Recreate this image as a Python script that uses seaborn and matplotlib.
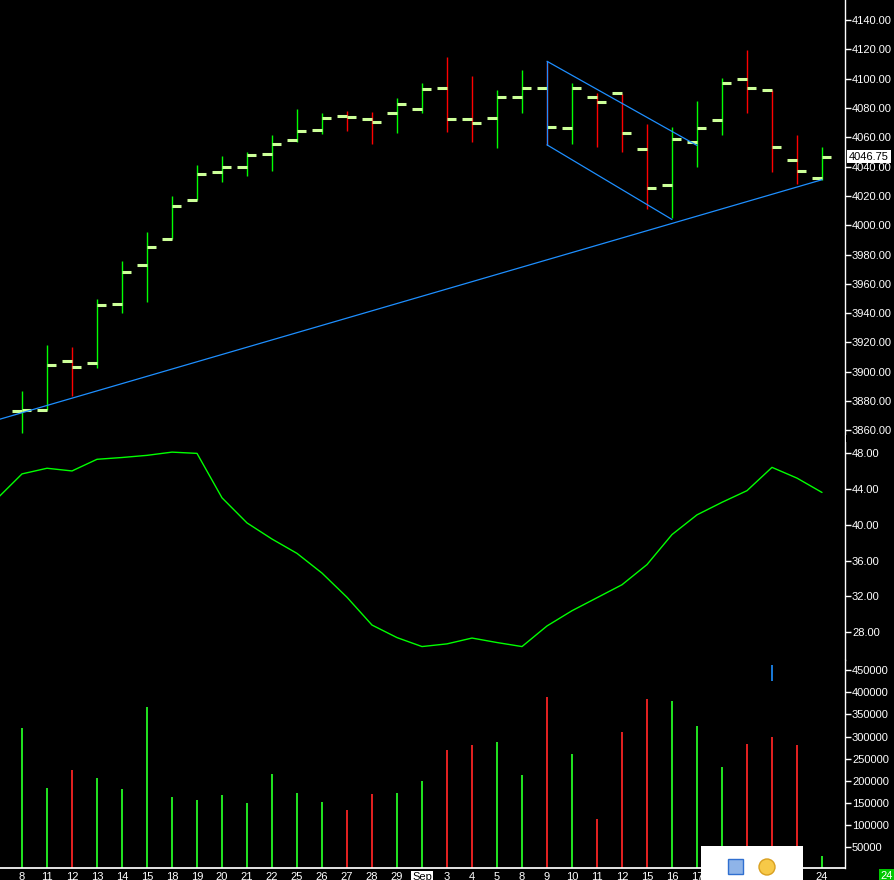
import numpy as np
import pandas as pd
import matplotlib
matplotlib.use("Agg")
import matplotlib.pyplot as plt
import matplotlib.transforms as mtransforms
from matplotlib.patches import Rectangle, Ellipse
import seaborn as sns

# daily bars, Aug 8 .. Sep 24
dates = ["8", "11", "12", "13", "14", "15", "18", "19", "20", "21", "22",
         "25", "26", "27", "28", "29", "Sep", "3", "4", "5", "8", "9", "10",
         "11", "12", "15", "16", "17", "18", "19", "22", "23", "24"]

opens = [3873.5, 3874.0, 3907.5, 3906.2, 3946.5, 3973.1, 3990.9, 4017.5, 4036.6,
         4040.0, 4048.3, 4057.8, 4064.7, 4074.2, 4072.2, 4076.3, 4079.0, 4093.3,
         4072.2, 4072.9, 4087.2, 4093.3, 4066.0, 4087.2, 4090.0, 4051.7, 4027.1,
         4056.5, 4071.5, 4099.5, 4092.2, 4044.8, 4032.0]
highs = [3886.6, 3918.0, 3917.0, 3949.4, 3975.4, 3995.2, 4019.8, 4041.0, 4047.1,
         4049.8, 4061.4, 4079.2, 4076.5, 4077.8, 4077.2, 4086.7, 4097.0, 4114.7,
         4101.7, 4092.2, 4105.8, 4112.0, 4097.0, 4090.0, 4089.5, 4069.0, 4066.9,
         4084.7, 4100.4, 4119.5, 4092.2, 4061.4, 4053.5]
lows = [3858.0, 3874.0, 3883.4, 3902.5, 3940.0, 3947.6, 3990.9, 4017.5, 4029.6,
        4033.7, 4037.1, 4056.9, 4062.3, 4064.4, 4055.5, 4063.0, 4076.7, 4063.7,
        4056.9, 4052.8, 4076.7, 4054.6, 4055.5, 4053.5, 4050.0, 4011.1, 4005.0,
        4039.8, 4061.7, 4076.7, 4036.4, 4028.2, 4031.0]
closes = [3874.2, 3904.8, 3903.4, 3945.8, 3968.3, 3985.4, 4013.4, 4034.6, 4040.0,
          4047.6, 4055.1, 4064.0, 4072.9, 4073.5, 4070.1, 4082.4, 4092.7, 4072.4,
          4069.4, 4087.2, 4093.3, 4066.7, 4093.3, 4083.8, 4062.6, 4025.7, 4058.5,
          4066.0, 4096.8, 4093.3, 4053.0, 4037.3, 4046.75]

volume = [319000, 184600, 225000, 207000, 182000, 367000, 164000, 157500, 169000,
          150000, 215000, 173000, 153000, 135000, 171000, 173000, 200000, 270000,
          281500, 288000, 213000, 390000, 261000, 114600, 311000, 385000, 381000,
          324000, 232000, 284000, 299000, 281500, 31000]

# oscillator, first value is the bar before the visible range
osc_prev = 42.9
osc = [45.67, 46.3, 46.0, 47.3, 47.5, 47.74, 48.1, 47.96, 43.0, 40.2, 38.4,
       36.8, 34.6, 31.9, 28.8, 27.4, 26.4, 26.7, 27.35, 26.85, 26.4, 28.7, 30.4,
       31.85, 33.3, 35.55, 38.9, 41.1, 42.5, 43.8, 46.4, 45.2, 43.6]

# drawn lines (bar index, price)
trend_x, trend_y = [-1, 32], [3867.1, 4031.0]
chan_top_x, chan_top_y = [21, 27], [4111.8, 4054.4]
chan_bot_x, chan_bot_y = [21, 26], [4054.8, 4003.9]

last_price = "4046.75"

sns.set_theme(style="ticks")
plt.rcParams["font.family"] = ["Liberation Sans", "DejaVu Sans"]

UP, DOWN, TICK, BLUE = "#00ff00", "#ff0000", "#ccff99", "#1e8fff"

W, H = 895, 880
fig = plt.figure(figsize=(W / 100, H / 100), dpi=100, facecolor="black")


def panel(top, bottom, **kw):
    return fig.add_axes([0, 1 - bottom / H, 845 / W, (bottom - top) / H], **kw)


ax_p = panel(0, 436)
ax_i = panel(436, 660, sharex=ax_p)
ax_v = panel(660, 868, sharex=ax_p)

idx = np.arange(len(closes))
up = [c >= o for o, c in zip(opens, closes)]
bar_cols = [UP if u else DOWN for u in up]

# price bars
ax_p.vlines(idx, lows, highs, colors=bar_cols, lw=1.0, zorder=2)
ax_p.hlines(opens, idx - 0.38, idx, color=TICK, lw=2.2, zorder=3)
ax_p.hlines(closes, idx, idx + 0.38, color=TICK, lw=2.2, zorder=3)
ax_p.plot(trend_x, trend_y, color=BLUE, lw=0.9, zorder=4)
ax_p.plot(chan_top_x, chan_top_y, color=BLUE, lw=0.9, zorder=4)
ax_p.plot(chan_bot_x, chan_bot_y, color=BLUE, lw=0.9, zorder=4)
ax_p.plot([chan_top_x[0], chan_bot_x[0]], [chan_top_y[0], chan_bot_y[0]],
          color=BLUE, lw=0.9, zorder=4)
ax_p.set_ylim(3856.2, 4153.6)
ax_p.set_yticks(np.arange(3860, 4141, 20))
ax_p.yaxis.set_major_formatter(matplotlib.ticker.FormatStrFormatter("%.2f"))

trans = mtransforms.blended_transform_factory(ax_p.transAxes, ax_p.transData)
ax_p.text(1 + 4 / 845, closes[-1], last_price, transform=trans, color="black",
          fontsize=8, ha="left", va="center", clip_on=False, zorder=20,
          bbox=dict(facecolor="white", edgecolor="none", pad=1.2))

# oscillator
sns.lineplot(x=np.arange(-1, len(osc)), y=[osc_prev] + osc, ax=ax_i,
             color=UP, lw=1.0)
ax_i.set_ylim(24.9, 49.9)
ax_i.set_yticks(np.arange(28, 49, 4))
ax_i.yaxis.set_major_formatter(matplotlib.ticker.FormatStrFormatter("%.2f"))

# volume
vol_df = pd.DataFrame({"bar": idx, "volume": volume,
                       "dir": ["up" if u else "down" for u in up]})
sns.barplot(data=vol_df, x="bar", y="volume", hue="dir",
            palette={"up": UP, "down": DOWN}, native_scale=True, dodge=False,
            width=0.1, errorbar=None, legend=False, linewidth=0, ax=ax_v)
ax_v.vlines(30, 426000, 461000, color=BLUE, lw=1.2)
ax_v.set_ylim(3400, 472600)
ax_v.set_yticks(np.arange(50000, 450001, 50000))
ax_v.yaxis.set_major_formatter(matplotlib.ticker.FormatStrFormatter("%d"))

for ax in (ax_p, ax_i, ax_v):
    ax.set_facecolor("black")
    ax.grid(False)
    ax.set_xlabel("")
    ax.set_ylabel("")
    for s in ("top", "left", "bottom"):
        ax.spines[s].set_visible(False)
    ax.spines["right"].set_color("white")
    ax.spines["right"].set_linewidth(1.0)
    ax.yaxis.tick_right()
    ax.tick_params(axis="y", colors="white", length=4, width=1,
                   labelsize=8, pad=1)
    ax.tick_params(axis="x", bottom=False, labelbottom=False)

ax_v.spines["bottom"].set_visible(True)
ax_v.spines["bottom"].set_color("white")
ax_v.set_xticks(idx)
ax_v.set_xticklabels(dates)
ax_v.tick_params(axis="x", bottom=True, labelbottom=True, length=0,
                 colors="white", labelsize=8, pad=3)
for lab in ax_v.get_xticklabels():
    if lab.get_text() == "Sep":
        lab.set_color("black")
        lab.set_bbox(dict(facecolor="white", edgecolor="none", pad=1))
ax_p.set_xlim(-0.88, 32.92)

# the price scale is cut at the panel edge, as on screen
fig.add_artist(Rectangle((846 / W, 1 - 442 / H), 49 / W, 7 / H,
                         transform=fig.transFigure, facecolor="black",
                         edgecolor="none", zorder=25))

# screen leftovers: popup box and the date marker in the corner
fig.add_artist(Rectangle((701 / W, 0), 102 / W, 34 / H, transform=fig.transFigure,
                         facecolor="white", edgecolor="none", zorder=30))
fig.add_artist(Rectangle((728 / W, 6 / H), 15 / W, 15 / H, transform=fig.transFigure,
                         facecolor="#8fb4e8", edgecolor="#2f6fd0", lw=1, zorder=31))
fig.add_artist(Ellipse((767 / W, 13 / H), 16 / W, 16 / H, transform=fig.transFigure,
                       facecolor="#f7c948", edgecolor="#d9a020", lw=1, zorder=31))
fig.text(887 / W, 4 / H, dates[-1], color="white", fontsize=8, ha="center",
         va="center", zorder=32,
         bbox=dict(facecolor="#00c800", edgecolor="none", pad=1.5))

fig.savefig("out.png", dpi=100, facecolor="black")
